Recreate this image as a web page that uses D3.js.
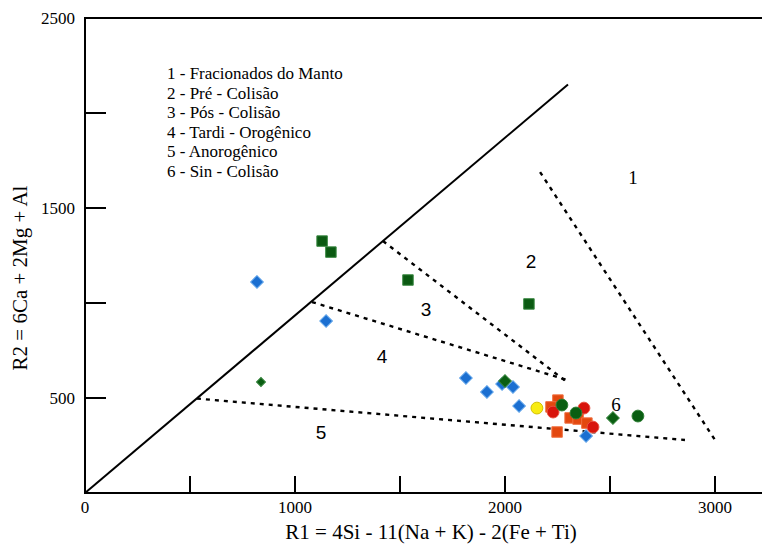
<!DOCTYPE html>
<html>
<head>
<meta charset="utf-8">
<script src="https://cdn.jsdelivr.net/npm/d3@7"></script>
<style>
  body { margin: 0; background: #fff; }
  svg text { font-family: "Liberation Serif", "Times New Roman", serif; fill: #000; }
</style>
</head>
<body>
<div id="chart"></div>
<script>
// R1-R2 diagram (De La Roche)
var xTicks = [500, 1000, 1500, 2000, 2500, 3000];
var xTickLabels = [0, 1000, 2000, 3000];
var yTicks = [500, 1000, 1500, 2000];
var yTickLabels = [500, 1500, 2500];

var legendItems = [
  "1 - Fracionados do Manto",
  "2 - Pré - Colisão",
  "3 - Pós - Colisão",
  "4 - Tardi - Orogênico",
  "5 - Anorogênico",
  "6 - Sin - Colisão"
];

// field boundaries
var mainLine = [[0, 0], [2300, 2150]];
var dashedLines = [
  [[2167, 1689], [3000, 279]],
  [[1419, 1326], [2295, 584]],
  [[1081, 1005], [2295, 595]],
  [[533, 497], [2857, 279]]
];
// field numbers: [label, R1, R2, sans?]
var fieldLabels = [
  ["1", 2610, 1663, false],
  ["2", 2124, 1221, true],
  ["3", 1624, 968, true],
  ["4", 1414, 721, true],
  ["5", 1124, 321, true],
  ["6", 2529, 468, false]
];

// samples
var blueDiamonds = [[819, 1111], [1148, 905], [1814, 605], [1914, 532], [1986, 574], [2038, 558], [2067, 458], [2386, 300]];
var smallGreenDiamonds = [[838, 584]];
var greenDiamonds = [[2000, 589], [2514, 395]];
var greenSquares = [[1129, 1326], [1171, 1268], [1538, 1121], [2114, 995]];
var orangeSquares = [[2252, 489], [2219, 453], [2310, 395], [2348, 389], [2390, 368], [2248, 321]];
var redCircles = [[2229, 426], [2376, 447], [2419, 347]];
var greenCircles = [[2271, 463], [2338, 421], [2633, 405]];
var yellowCircles = [[2152, 447]];

renderChart();

function renderChart() {
  var width = 762;
  var height = 544;

  var svg = d3.select("#chart")
    .append("svg")
    .attr("width", width)
    .attr("height", height);

  var x = d3.scaleLinear().domain([0, 3000]).range([85, 715]);
  var y = d3.scaleLinear().domain([0, 2500]).range([493, 18]);

  // frame: left axis, bottom axis, top line
  svg.append("line")
    .attr("x1", x(0)).attr("x2", x(0))
    .attr("y1", y(2500)).attr("y2", y(0))
    .attr("stroke", "#000").attr("stroke-width", 2);
  svg.append("line")
    .attr("x1", x(0) - 1).attr("x2", width)
    .attr("y1", y(0)).attr("y2", y(0))
    .attr("stroke", "#000").attr("stroke-width", 2);
  svg.append("line")
    .attr("x1", x(0) - 1).attr("x2", width)
    .attr("y1", y(2500)).attr("y2", y(2500))
    .attr("stroke", "#000").attr("stroke-width", 2);

  // inward ticks
  svg.selectAll(".xtick")
    .data(xTicks)
    .enter().append("line")
    .attr("class", "xtick")
    .attr("x1", function(d) { return x(d); })
    .attr("x2", function(d) { return x(d); })
    .attr("y1", y(0))
    .attr("y2", y(0) - 17)
    .attr("stroke", "#000").attr("stroke-width", 2);

  svg.selectAll(".ytick")
    .data(yTicks)
    .enter().append("line")
    .attr("class", "ytick")
    .attr("x1", x(0))
    .attr("x2", x(0) + 21)
    .attr("y1", function(d) { return y(d); })
    .attr("y2", function(d) { return y(d); })
    .attr("stroke", "#000").attr("stroke-width", 2);

  svg.selectAll(".xlabel")
    .data(xTickLabels)
    .enter().append("text")
    .attr("class", "xlabel")
    .attr("x", function(d) { return x(d); })
    .attr("y", y(0) + 20)
    .attr("text-anchor", "middle")
    .style("font-size", "17px")
    .text(function(d) { return d; });

  svg.selectAll(".ylabel")
    .data(yTickLabels)
    .enter().append("text")
    .attr("class", "ylabel")
    .attr("x", x(0) - 10)
    .attr("y", function(d) { return y(d) + 6; })
    .attr("text-anchor", "end")
    .style("font-size", "17px")
    .text(function(d) { return d; });

  // axis titles
  svg.append("text")
    .attr("x", 431)
    .attr("y", 539)
    .attr("text-anchor", "middle")
    .style("font-size", "21px")
    .text("R1 = 4Si - 11(Na + K) - 2(Fe + Ti)");

  svg.append("text")
    .attr("transform", "translate(27,278) rotate(-90)")
    .attr("text-anchor", "middle")
    .style("font-size", "21px")
    .text("R2 = 6Ca + 2Mg + Al");

  // legend
  svg.selectAll(".legend")
    .data(legendItems)
    .enter().append("text")
    .attr("class", "legend")
    .attr("x", 167)
    .attr("y", function(d, i) { return 79 + i * 19.6; })
    .style("font-size", "17px")
    .text(function(d) { return d; });

  // boundaries
  var line = d3.line()
    .x(function(d) { return x(d[0]); })
    .y(function(d) { return y(d[1]); });

  svg.append("path")
    .datum(mainLine)
    .attr("d", line)
    .attr("fill", "none")
    .attr("stroke", "#000")
    .attr("stroke-width", 2);

  svg.selectAll(".dash")
    .data(dashedLines)
    .enter().append("path")
    .attr("class", "dash")
    .attr("d", line)
    .attr("fill", "none")
    .attr("stroke", "#000")
    .attr("stroke-width", 2.4)
    .attr("stroke-dasharray", "4,5");

  svg.selectAll(".field")
    .data(fieldLabels)
    .enter().append("text")
    .attr("class", "field")
    .attr("x", function(d) { return x(d[1]); })
    .attr("y", function(d) { return y(d[2]); })
    .attr("text-anchor", "middle")
    .attr("dominant-baseline", "central")
    .style("font-family", function(d) { return d[3] ? "'Liberation Sans', Arial, sans-serif" : null; })
    .style("font-size", "19px")
    .text(function(d) { return d[0]; });

  // sample symbols
  drawPoints(svg, x, y, blueDiamonds, d3.symbolSquare, 80, 45, "#1b6fd1", "#5aa0e8");
  drawPoints(svg, x, y, smallGreenDiamonds, d3.symbolSquare, 40, 45, "#0a5e12", "#2f7f36");
  drawPoints(svg, x, y, greenSquares, d3.symbolSquare, 110, 0, "#0b5a12", "#3c8a44");
  drawPoints(svg, x, y, orangeSquares, d3.symbolSquare, 110, 0, "#e3480f", "#f07040");
  drawPoints(svg, x, y, greenDiamonds, d3.symbolSquare, 80, 45, "#0a5e12", "#2f7f36");
  drawPoints(svg, x, y, yellowCircles, d3.symbolCircle, 110, 0, "#f8ec12", "#d4c000");
  drawPoints(svg, x, y, redCircles, d3.symbolCircle, 110, 0, "#d8140c", "#e85040");
  drawPoints(svg, x, y, greenCircles, d3.symbolCircle, 110, 0, "#0a5e12", "#2f7f36");
}

function drawPoints(svg, x, y, data, type, size, angle, fill, stroke) {
  svg.append("g")
    .selectAll("path")
    .data(data)
    .enter().append("path")
    .attr("transform", function(d) {
      return "translate(" + x(d[0]) + "," + y(d[1]) + ") rotate(" + angle + ")";
    })
    .attr("d", d3.symbol().type(type).size(size))
    .attr("fill", fill)
    .attr("stroke", stroke)
    .attr("stroke-width", 1);
}
</script>
</body>
</html>
